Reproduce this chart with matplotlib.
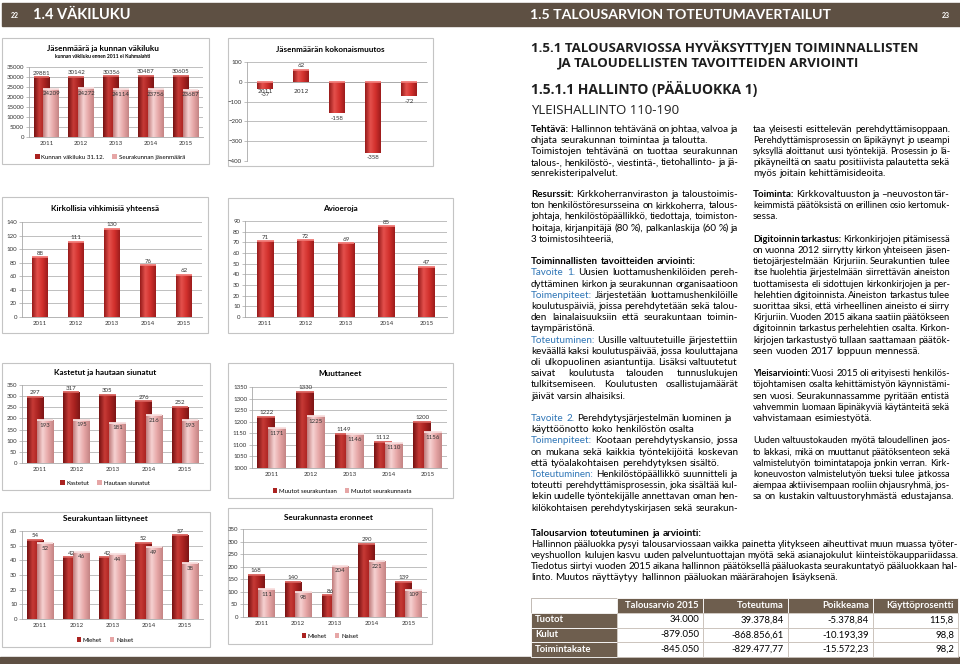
import numpy as np
import matplotlib
matplotlib.use("Agg")
import matplotlib.pyplot as plt
from matplotlib.colors import LinearSegmentedColormap
from matplotlib.patches import Rectangle

W, H = 960, 664
BODY = "Lato"
HEAD = "Open Sans"
BROWN = "#5e5043"
BLUE = "#2e75b6"

years = ["2011", "2012", "2013", "2014", "2015"]

# chart data
vakiluku = [29881, 30142, 30356, 30487, 30605]
jasenmaara = [24209, 24272, 24114, 23756, 23687]
muutos = [-37, 62, -158, -358, -72]
vihkimiset = [88, 111, 130, 76, 62]
avioerot = [71, 72, 69, 85, 47]
kastetut = [297, 317, 305, 276, 252]
siunatut = [193, 195, 181, 216, 193]
muutot_sisaan = [1222, 1330, 1149, 1112, 1200]
muutot_ulos = [1171, 1225, 1146, 1110, 1156]
liittyneet_m = [54, 42, 42, 52, 57]
liittyneet_n = [52, 46, 44, 49, 38]
eronneet_m = [168, 140, 86, 290, 139]
eronneet_n = [111, 98, 204, 221, 109]

# table data
tbl_cols = ["Talousarvio 2015", "Toteutuma", "Poikkeama", "Käyttöprosentti"]
tbl_rows = ["Tuotot", "Kulut", "Toimintakate"]
talousarvio = [34000, -879050, -845050]
toteutuma = [39378.84, -868856.61, -829477.77]
poikkeama = [-5378.84, -10193.39, -15572.23]
kayttopros = [115.8, 98.8, 98.2]

# text ('*' = bold, '#' = blue, trailing '|' = line not justified)
txt_top_l = [
    "*Tehtävä:* Hallinnon tehtävänä on johtaa, valvoa ja",
    "ohjata seurakunnan toimintaa ja taloutta.|",
    "Toimistojen tehtävänä on tuottaa seurakunnan",
    "talous-, henkilöstö-, viestintä-, tietohallinto- ja jä-",
    "senrekisteripalvelut.|",
]
txt_top_r = [
    "taa yleisesti esittelevän perehdyttämisoppaan.",
    "Perehdyttämisprosessin on läpikäynyt jo useampi",
    "syksyllä aloittanut uusi työntekijä. Prosessin jo lä-",
    "pikäyneiltä on saatu positiivista palautetta sekä",
    "myös joitain kehittämisideoita.|",
]
txt_mid_l = [
    "*Resurssit:* Kirkkoherranviraston ja taloustoimis-",
    "ton henkilöstöresursseina on kirkkoherra, talous-",
    "johtaja, henkilöstöpäällikkö, tiedottaja, toimiston-",
    "hoitaja, kirjanpitäjä (80 %), palkanlaskija (60 %) ja",
    "3 toimistosihteeriä,|",
    "",
    "*Toiminnallisten tavoitteiden arviointi:*|",
    "#Tavoite 1.# Uusien luottamushenkilöiden pereh-",
    "dyttäminen kirkon ja seurakunnan organisaatioon",
    "#Toimenpiteet:# Järjestetään luottamushenkilöille",
    "koulutuspäiviä, joissa perehdytetään sekä talou-",
    "den lainalaisuuksiin että seurakuntaan toimin-",
    "taympäristönä.|",
    "#Toteutuminen:# Uusille valtuutetuille järjestettiin",
    "keväällä kaksi koulutuspäivää, jossa kouluttajana",
    "oli ulkopuolinen asiantuntija. Lisäksi valtuutetut",
    "saivat koulutusta talouden tunnuslukujen",
    "tulkitsemiseen. Koulutusten osallistujamäärät",
    "jäivät varsin alhaisiksi.|",
    "",
    "#Tavoite 2.# Perehdytysjärjestelmän luominen ja|",
    "käyttöönotto koko henkilöstön osalta|",
    "#Toimenpiteet:# Kootaan perehdytyskansio, jossa",
    "on mukana sekä kaikkia työntekijöitä koskevan",
    "että työalakohtaisen perehdytyksen sisältö.|",
    "#Toteutuminen:# Henkilöstöpäällikkö suunnitteli ja",
    "toteutti perehdyttämisprosessin, joka sisältää kul-",
    "lekin uudelle työntekijälle annettavan oman hen-",
    "kilökohtaisen perehdytyskirjasen sekä seurakun-",
]
txt_mid_r = [
    "*Toiminta:* Kirkkovaltuuston ja –neuvoston tär-",
    "keimmistä päätöksistä on erillinen osio kertomuk-",
    "sessa.|",
    "",
    "*Digitoinnin tarkastus:* Kirkonkirjojen pitämisessä",
    "on vuonna 2012 siirrytty kirkon yhteiseen jäsen-",
    "tietojärjestelmään Kirjuriin. Seurakuntien tulee",
    "itse huolehtia järjestelmään siirrettävän aineiston",
    "tuottamisesta eli sidottujen kirkonkirjojen ja per-",
    "helehtien digitoinnista. Aineiston tarkastus tulee",
    "suorittaa siksi, että virheellinen aineisto ei siirry",
    "Kirjuriin. Vuoden 2015 aikana saatiin päätökseen",
    "digitoinnin tarkastus perhelehtien osalta. Kirkon-",
    "kirjojen tarkastustyö tullaan saattamaan päätök-",
    "seen vuoden 2017 loppuun mennessä.|",
    "",
    "*Yleisarviointi:* Vuosi 2015 oli erityisesti henkilös-",
    "töjohtamisen osalta kehittämistyön käynnistämi-",
    "sen vuosi. Seurakunnassamme pyritään entistä",
    "vahvemmin luomaan läpinäkyviä käytänteitä sekä",
    "vahvistamaan esimiestyötä.|",
    "",
    "Uuden valtuustokauden myötä taloudellinen jaos-",
    "to lakkasi, mikä on muuttanut päätöksenteon sekä",
    "valmistelutyön toimintatapoja jonkin verran. Kirk-",
    "koneuvoston valmistelutyön tueksi tulee jatkossa",
    "aiempaa aktiivisempaan rooliin ohjausryhmä, jos-",
    "sa on kustakin valtuustoryhmästä edustajansa.|",
]
txt_bottom = [
    "*Talousarvion toteutuminen ja arviointi:*|",
    "Hallinnon pääluokka pysyi talousarviossaan vaikka painetta ylitykseen aiheuttivat muun muassa työter-",
    "veyshuollon kulujen kasvu uuden palveluntuottajan myötä sekä asianajokulut kiinteistökauppariidassa.",
    "Tiedotus siirtyi vuoden 2015 aikana hallinnon päätöksellä pääluokasta seurakuntatyö pääluokkaan hal-",
    "linto. Muutos näyttäytyy hallinnon pääluokan määrärahojen lisäyksenä.|",
]

fig = plt.figure(figsize=(W / 100, H / 100), dpi=100)
page = fig.add_axes([0, 0, 1, 1])
page.set_xlim(0, W)
page.set_ylim(H, 0)
page.axis("off")
renderer = fig.canvas.get_renderer()

red_single = LinearSegmentedColormap.from_list("r", ["#961a1a", "#e4504c", "#d2302c", "#9c1c1c"])
red_dark = LinearSegmentedColormap.from_list("d", ["#761212", "#c63a36", "#aa2220", "#7c1616"])
pink = LinearSegmentedColormap.from_list("p", ["#c07c7c", "#f6d2d2", "#e6a6a6", "#c48484"])
DARK_C, PINK_C = "#aa2220", "#e6a6a6"


def px_ax(x0, y0, x1, y1):
    ax = fig.add_axes([x0 / W, 1 - y1 / H, (x1 - x0) / W, (y1 - y0) / H])
    ax.patch.set_alpha(0)
    return ax


def frame(x0, y0, x1, y1):
    page.add_patch(Rectangle((x0, y0), x1 - x0, y1 - y0, fill=False, ec="#c4c4c4", lw=0.8))


def gbars(ax, x, vals, width, cmap, cap, z=3, base=0):
    vals = np.asarray(vals)
    bars = ax.bar(x, vals - base, width, bottom=base, color="none", edgecolor="none", zorder=z)
    grad = np.linspace(0, 1, 64).reshape(1, -1)
    for b in bars:
        y0, y1 = sorted([b.get_y(), b.get_y() + b.get_height()])
        im = ax.imshow(grad, cmap=cmap, extent=[b.get_x(), b.get_x() + b.get_width(), y0, y1],
                       aspect="auto", zorder=z, interpolation="bilinear")
        im.set_clip_path(b)
    tops = np.maximum(vals, 0)
    ax.hlines(tops, np.asarray(x) - width / 2, np.asarray(x) + width / 2, color=cap, lw=1.3, zorder=z + 0.1)
    return bars


def style(ax, lo, hi, step, xpad=3):
    ax.set_xlim(-0.5, 4.5)
    ax.set_ylim(lo, hi)
    ax.set_yticks(np.arange(lo, hi + step / 2, step))
    ax.set_xticks(range(5))
    ax.set_xticklabels(years)
    ax.grid(axis="y", color="#b4b4b4", lw=0.6)
    ax.set_axisbelow(True)
    for s in ("top", "right"):
        ax.spines[s].set_visible(False)
    for s in ("left", "bottom"):
        ax.spines[s].set_color("#a8a8a8")
        ax.spines[s].set_linewidth(0.6)
    ax.tick_params(labelsize=4.4, labelcolor="#333333", colors="#a8a8a8", width=0.5)
    ax.tick_params(axis="y", length=2, pad=1.5)
    ax.tick_params(axis="x", length=0, pad=xpad)
    for t in ax.get_xticklabels() + ax.get_yticklabels():
        t.set_family(BODY)


def vlabel(ax, xs, vals, inside=False):
    for x, v in zip(xs, vals):
        if inside or v < 0:
            ax.annotate(str(v), (x, v), xytext=(0, -2.0), textcoords="offset points",
                        ha="center", va="top", fontsize=4.4, color="#333333", zorder=6, family=BODY)
        else:
            ax.annotate(str(v), (x, v), xytext=(0, 1.2), textcoords="offset points",
                        ha="center", va="bottom", fontsize=4.4, color="#333333", zorder=6, family=BODY)


def legend(ax, labels, cx, cy):
    handles = [Rectangle((0, 0), 1, 1, fc=DARK_C), Rectangle((0, 0), 1, 1, fc=PINK_C)]
    ax.legend(handles, labels, loc="center", bbox_to_anchor=(cx / W, 1 - cy / H),
              bbox_transform=fig.transFigure, ncol=2, frameon=False,
              prop={"size": 4.4, "family": BODY}, handlelength=0.7, handleheight=0.7,
              handletextpad=0.3, columnspacing=1.3, borderpad=0)


def title(x, y, s, size=5.9):
    page.text(x, y, s, ha="center", va="center", fontsize=size, weight="bold", family=BODY)


def pair_chart(box, plot, ttl, a, b, lo, hi, step, labels, tpos, lpos):
    frame(*box)
    ax = px_ax(*plot)
    x = np.arange(5)
    gbars(ax, x - 0.14, a, 0.45, red_dark, "#d8605c", 3, base=lo)
    gbars(ax, x + 0.14, b, 0.45, pink, "#f8dede", 4, base=lo)
    style(ax, lo, hi, step)
    vlabel(ax, x - 0.14, a)
    vlabel(ax, x + 0.14, b, inside=True)
    title(*tpos, ttl)
    legend(ax, labels, *lpos)
    return ax


def single_chart(box, plot, ttl, vals, lo, hi, step, tpos):
    frame(*box)
    ax = px_ax(*plot)
    x = np.arange(5)
    gbars(ax, x, vals, 0.42, red_single, "#f07a76")
    style(ax, lo, hi, step)
    vlabel(ax, x, vals)
    title(*tpos, ttl)
    return ax


# ---- header / footer bars
page.add_patch(Rectangle((2, 3), W, 23, color=BROWN))
page.add_patch(Rectangle((0, 657), W, 8, color=BROWN))
page.text(11, 15, "22", color="white", fontsize=5, weight="bold", va="center", family=BODY)
page.text(33, 15, "1.4 VÄKILUKU", color="white", fontsize=10.5, weight="bold", va="center", family=BODY)
page.text(530, 15, "1.5 TALOUSARVION TOTEUTUMAVERTAILUT", color="white", fontsize=10.2,
          weight="bold", va="center", family=BODY)
page.text(942, 15, "23", color="white", fontsize=5, weight="bold", va="center", family=BODY)

# ---- charts
pair_chart((2, 38, 209, 164), (29, 67, 203, 137), "Jäsenmäärä ja kunnan väkiluku",
           vakiluku, jasenmaara, 0, 35000, 5000,
           ["Kunnan väkiluku 31.12.", "Seurakunnan jäsenmäärä"], (103, 48), (110, 157))
page.text(103, 56, "kunnan väkiluku ennen 2011 ei Kuhmalahti", ha="center", va="center",
          fontsize=3.6, weight="bold", family=BODY)

frame(228, 38, 433, 166)
ax2 = px_ax(247, 62, 427, 161)
gbars(ax2, np.arange(5), muutos, 0.42, red_single, "#f07a76")
style(ax2, -400, 100, 100, xpad=5)
ax2.spines["bottom"].set_position(("data", 0))
vlabel(ax2, np.arange(5), muutos)
title(330, 49, "Jäsenmäärän kokonaismuutos")

single_chart((2, 197, 208, 333), (22, 222, 202, 317), "Kirkollisia vihkimisiä yhteensä",
             vihkimiset, 0, 140, 20, (105, 208))
single_chart((228, 198, 453, 333), (245, 221, 447, 317), "Avioeroja",
             avioerot, 0, 90, 10, (340, 209))

pair_chart((2, 363, 210, 490), (22, 385, 203, 463), "Kastetut ja hautaan siunatut",
           kastetut, siunatut, 0, 350, 50, ["Kastetut", "Hautaan siunatut"], (105, 373), (105, 483))
pair_chart((228, 363, 453, 498), (252, 387, 447, 468), "Muuttaneet",
           muutot_sisaan, muutot_ulos, 1000, 1350, 50,
           ["Muutot seurakuntaan", "Muutot seurakunnasta"], (340, 374), (342, 491))
pair_chart((2, 512, 210, 647), (22, 531, 203, 619), "Seurakuntaan liittyneet",
           liittyneet_m, liittyneet_n, 0, 60, 10, ["Miehet", "Naiset"], (105, 519), (105, 640))
pair_chart((228, 508, 432, 644), (243, 529, 427, 617), "Seurakunnasta eronneet",
           eronneet_m, eronneet_n, 0, 350, 50, ["Miehet", "Naiset"], (328, 518), (330, 636))

# ---- right page headings
page.text(531, 48, "1.5.1 TALOUSARVIOSSA HYVÄKSYTTYJEN TOIMINNALLISTEN", fontsize=9.55,
          weight="bold", va="center", family=HEAD, color="#1e1e1e")
page.text(558, 63, "JA TALOUDELLISTEN TAVOITTEIDEN ARVIOINTI", fontsize=9.55,
          weight="bold", va="center", family=HEAD, color="#1e1e1e")
page.text(531, 89, "1.5.1.1 HALLINTO (PÄÄLUOKKA 1)", fontsize=10, weight="bold",
          va="center", family=HEAD, color="#1e1e1e")
page.text(531, 110, "YLEISHALLINTO 110-190", fontsize=9.5, va="center", family=HEAD, color="#1e1e1e")


def words_of(line):
    out, bold, blue = [], False, False
    for tok in line.rstrip("|").split(" "):
        if tok.startswith("*"):
            bold, tok = True, tok[1:]
        if tok.startswith("#"):
            blue, tok = True, tok[1:]
        end_b, end_u = tok.endswith("*"), False
        if end_b:
            tok = tok[:-1]
        if tok.endswith("#"):
            end_u, tok = True, tok[:-1]
        out.append((tok, bold, blue))
        if end_b:
            bold = False
        if end_u:
            blue = False
    return out


def make_words(line, y, size):
    return [page.text(0, y, w, fontsize=size, family=BODY, va="baseline",
                      weight="bold" if b else "normal", color=BLUE if u else "black")
            for w, b, u in words_of(line)]


def space_w(size):
    probe = [page.text(0, 0, s, fontsize=size, family=BODY) for s in ("a a", "aa")]
    wa, wb = [p.get_window_extent(renderer).width for p in probe]
    for p in probe:
        p.remove()
    return wa - wb


def block(lines, x0, x1, y0, dy, size, squeeze=0.6):
    for i, line in enumerate(lines):
        if not line:
            continue
        just = not line.endswith("|")
        s = size
        texts = make_words(line, y0 + i * dy, s)
        widths = [t.get_window_extent(renderer).width for t in texts]
        n = len(texts)
        need = sum(widths) + squeeze * space_w(s) * (n - 1)
        if need > x1 - x0:
            # too long for the column at this size: shrink only this line
            s = s * (x1 - x0) / need
            for t in texts:
                t.set_fontsize(s)
            widths = [t.get_window_extent(renderer).width for t in texts]
        gap = (x1 - x0 - sum(widths)) / (n - 1) if just and n > 1 else space_w(s)
        x = x0
        for t, w in zip(texts, widths):
            t.set_x(x)
            x += w + gap


BODY_SIZE = 7.1
block(txt_top_l, 531, 738, 132, 11.1, BODY_SIZE)
block(txt_top_r, 753, 950, 132, 11.1, BODY_SIZE)
block(txt_mid_l, 531, 738, 197, 11.2, BODY_SIZE)
block(txt_mid_r, 753, 950, 197, 11.2, BODY_SIZE)
block(txt_bottom, 531, 958, 536, 11.1, BODY_SIZE)


# ---- table
def fi(v, dec):
    return f"{v:,.{dec}f}".replace(",", " ").replace(".", ",").replace(" ", ".")


xe = [531, 617, 703, 788, 873, 958]
ye = [598, 612.5, 627.5, 642, 657]
cols = [[fi(v, 0) for v in talousarvio], [fi(v, 2) for v in toteutuma],
        [fi(v, 2) for v in poikkeama], [fi(v, 1) for v in kayttopros]]
HB = "#6e5e4e"
page.add_patch(Rectangle((xe[0], ye[0]), xe[1] - xe[0], ye[1] - ye[0], fc="white", ec="#b8b0a8", lw=0.6))
for j, name in enumerate(tbl_cols):
    page.add_patch(Rectangle((xe[j + 1], ye[0]), xe[j + 2] - xe[j + 1], ye[1] - ye[0], fc=HB, ec="white", lw=0.6))
    page.text(xe[j + 2] - 4, (ye[0] + ye[1]) / 2, name, ha="right", va="center", color="white",
              fontsize=6.8, weight="bold", family=BODY)
for i, name in enumerate(tbl_rows):
    page.add_patch(Rectangle((xe[0], ye[i + 1]), xe[1] - xe[0], ye[i + 2] - ye[i + 1], fc=HB, ec="white", lw=0.6))
    page.text(xe[0] + 4, (ye[i + 1] + ye[i + 2]) / 2, name, ha="left", va="center", color="white",
              fontsize=6.8, weight="bold", family=BODY)
    for j in range(4):
        page.add_patch(Rectangle((xe[j + 1], ye[i + 1]), xe[j + 2] - xe[j + 1], ye[i + 2] - ye[i + 1],
                                 fc="white", ec="#c8c0b8", lw=0.6))
        page.text(xe[j + 2] - 4, (ye[i + 1] + ye[i + 2]) / 2, cols[j][i], ha="right", va="center",
                  color="black", fontsize=6.8, family=BODY)

fig.savefig("out.png", dpi=100)
